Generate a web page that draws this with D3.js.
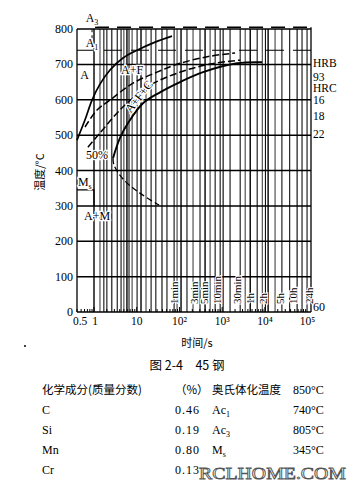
<!DOCTYPE html>
<html><head><meta charset="utf-8">
<script src="https://cdn.jsdelivr.net/npm/d3@7"></script>
<style>body{margin:0;background:#fff}svg{display:block}</style>
</head><body>
<svg id="c" width="358" height="500"></svg>
<script>
// ---------- data ----------
const tempTicks = [0,100,200,300,400,500,600,700,800];
const timeTicks = [0.5,1,10,100,1000,10000,100000];
const timeTickLabels = ["0.5","1","10","10²","10³","10⁴","10⁵"];
const coolingTimes = [1,1.38,1.7,2.0,2.6,3.5,4.3,5.0,5.9,6.6,7.8,10.2,12.6,16.5,21.7,28,39,51,75,88,109,150,208,303,398,522,685,898,1056,1530,2640,3460,4540,6600,8700,10300,11900,17300,25000,38000,56900,74000,97000];
const coolingLabels = ["1min","3min","5min","10min","30min","1h","2h","5h","10h","24h"];
const coolingLabelTimes = [60,180,300,600,1800,3600,7200,18000,36000,86400];
const hardnessLabels = ["HRB","93","HRC","16","18","22"];
const hardnessTemps = [703,664,633,599,554,503];
const bottomHardness = "60";
const ferriteStart = [[0.40,486],[0.61,542],[0.90,599],[1.38,644],[2.37,684],[4.77,718],[10.2,740],[26.9,763],[67,780]];
const pearliteStart = [[0.615,523],[1.18,571],[2.37,599],[8.2,647],[29.9,678],[103,703],[521,723],[2005,732]];
const half = [[0.72,466],[1.38,506],[3.1,556],[5.9,590],[20.5,641],[103,678],[521,701],[2625,712]];
const finish = [[2.79,435],[4.06,492],[6.26,534],[14,590],[35,621],[103,650],[357,678],[2234,703],[8600,706]];
const lowerStart = [[2.79,435],[2.94,415],[5.04,373],[11.9,336],[33.4,302]];
const Ac1 = 740, Ac3 = 805, Ms = 345, MsEndTime = 1.0;
const tableRows = [
  ["化学成分(质量分数)","（%）","奥氏体化温度","850°C"],
  ["C","0.46","Ac|1","740°C"],
  ["Si","0.19","Ac|3","805°C"],
  ["Mn","0.80","M|s","345°C"],
  ["Cr","0.13","",""]
];

// ---------- drawing ----------
const svg = d3.select("#c");
svg.append("rect").attr("width",358).attr("height",500).attr("fill","#fff");
const x = d3.scaleLog().domain([0.4,1.2e5]).range([77,311]);
const y = d3.scaleLinear().domain([0,800]).range([312,29]);
const serif = "Liberation Serif, DejaVu Serif, serif";
const cjk = "Noto Sans CJK SC, sans-serif";
const g = svg.append("g");

// cooling curves (vertical)
g.selectAll("line.cool").data(coolingTimes).join("line")
  .attr("x1",d=>x(d)).attr("x2",d=>x(d))
  .attr("y1",y(800)).attr("y2",y(0))
  .attr("stroke",(d,i)=> i%3===1 ? "#444" : "#111")
  .attr("stroke-width",(d,i)=> i%4===0 ? 1.5 : 1.1);

// horizontal grid
g.selectAll("line.grid").data(tempTicks).join("line")
  .attr("x1",x.range()[0]).attr("x2",x.range()[1])
  .attr("y1",d=>y(d)).attr("y2",d=>y(d))
  .attr("stroke","#000").attr("stroke-width",1.5);

// frame
g.append("line").attr("x1",77).attr("x2",77).attr("y1",y(800)).attr("y2",y(0)).attr("stroke","#000").attr("stroke-width",1.3);
g.append("line").attr("x1",x.range()[1]).attr("x2",x.range()[1]).attr("y1",y(805)).attr("y2",y(0)).attr("stroke","#000").attr("stroke-width",1.3);

// Ac3 and Ac1 dashed lines
g.append("line").attr("x1",x(0.9)+3).attr("x2",x.range()[1]).attr("y1",y(Ac3)).attr("y2",y(Ac3))
  .attr("stroke","#000").attr("stroke-width",1.5).attr("stroke-dasharray","14,8");
g.append("line").attr("x1",x.range()[0]).attr("x2",x.range()[1]).attr("y1",y(Ac1)).attr("y2",y(Ac1))
  .attr("stroke","#000").attr("stroke-width",1.2).attr("stroke-dasharray","18,9");
g.append("line").attr("x1",x(0.9)).attr("x2",x(0.9)).attr("y1",y(Ac3)+2).attr("y2",y(Ac1)-12)
  .attr("stroke","#000").attr("stroke-width",1).attr("stroke-dasharray","3,3");

// bottom ticks
const minor = [];
for (let e=-1;e<5;e++) for (let m=1;m<10;m++){const v=m*Math.pow(10,e); if(v>=0.4&&v<=1.2e5) minor.push(v);}
g.selectAll("line.tk").data(minor).join("line")
  .attr("x1",d=>x(d)).attr("x2",d=>x(d)).attr("y1",y(0)).attr("y2",d=>y(0)-(Math.abs(Math.log10(d)%1)<1e-9?5:3))
  .attr("stroke","#000").attr("stroke-width",1);

// curves
const line = d3.line().x(d=>x(d[0])).y(d=>y(d[1])).curve(d3.curveCatmullRom);
g.append("path").attr("d",line(ferriteStart)).attr("fill","none").attr("stroke","#000").attr("stroke-width",1.7);
g.append("path").attr("d",line(pearliteStart)).attr("fill","none").attr("stroke","#000").attr("stroke-width",1.5).attr("stroke-dasharray","7,3");
g.append("path").attr("d",line(half)).attr("fill","none").attr("stroke","#000").attr("stroke-width",1.5).attr("stroke-dasharray","7,3");
g.append("path").attr("d",line(finish)).attr("fill","none").attr("stroke","#000").attr("stroke-width",1.9);
g.append("path").attr("d",line(lowerStart)).attr("fill","none").attr("stroke","#000").attr("stroke-width",1.3).attr("stroke-dasharray","6,3");

// Ms box
g.append("path").attr("d",`M${x.range()[0]},${y(Ms)}H${x(MsEndTime)}V${y(300)}`)
  .attr("fill","none").attr("stroke","#000").attr("stroke-width",1.2);

// y tick labels
g.selectAll("text.yt").data(tempTicks).join("text")
  .attr("x",73).attr("y",d=>y(d)+4).attr("text-anchor","end")
  .attr("font-family",serif).attr("font-size",12).text(d=>d);
// x tick labels
g.selectAll("text.xt").data(timeTicks).join("text")
  .attr("x",(d,i)=>x(d)+(i===0?-1:(i===1?1:0))).attr("y",325).attr("text-anchor","middle")
  .attr("font-family",serif).attr("font-size",11.5).text((d,i)=>timeTickLabels[i]);

// cooling labels
g.selectAll("text.cl").data(coolingLabels).join("text")
  .attr("transform",(d,i)=>`translate(${x(coolingLabelTimes[i])+8},304) rotate(-90)`)
  .attr("font-family",serif).attr("font-size",11).text(d=>d)
  .attr("paint-order","stroke").attr("stroke","#fff").attr("stroke-width",2);

// hardness labels
g.selectAll("text.hd").data(hardnessLabels).join("text")
  .attr("x",313).attr("y",(d,i)=>y(hardnessTemps[i])+4)
  .attr("font-family",serif).attr("font-size",11.5).text(d=>d);
g.append("text").attr("x",313).attr("y",311).attr("font-family",serif).attr("font-size",12).text(bottomHardness);

// region labels
function lab(t,T,txt,sub,rot){
  const tx = g.append("text").attr("font-family",serif).attr("font-size",12)
    .attr("text-anchor","middle")
    .attr("paint-order","stroke").attr("stroke","#fff").attr("stroke-width",2.5)
    .attr("transform",`translate(${x(t)},${y(T)}) rotate(${rot||0})`);
  tx.append("tspan").text(txt);
  if(sub) tx.append("tspan").attr("font-size",8).attr("dy",3).text(sub);
}
lab(0.9,819,"A","3");
lab(0.9,749,"A","1");
lab(0.6,658,"A");
lab(7.8,672,"A+F");
lab(13.3,602,"A+F+C",null,-52);
lab(1.18,432,"50%");
lab(0.61,356,"M","s");
lab(1.18,260,"A+M");

// axis titles
svg.append("text").attr("transform","translate(44,172) rotate(-90)").attr("text-anchor","middle")
  .attr("font-family",cjk).attr("font-size",11).text("温度/°C");
svg.append("text").attr("x",197).attr("y",347).attr("text-anchor","middle")
  .attr("font-family",cjk).attr("font-size",11).text("时间/s");
svg.append("circle").attr("cx",25).attr("cy",346).attr("r",1).attr("fill","#000");
svg.append("text").attr("x",187).attr("y",370).attr("text-anchor","middle")
  .attr("font-family",cjk).attr("font-size",12.5).text("图 2-4　45 钢");

// table
const colX = [42,175,212,293];
tableRows.forEach((row,r)=>{
  const yy = 394 + r*20;
  row.forEach((cell,c)=>{
    if(!cell) return;
    const isCjk = /[\u4e00-\u9fff（]/.test(cell);
    const t = svg.append("text").attr("x",colX[c]).attr("y",yy)
      .attr("font-family",isCjk?cjk:serif).attr("font-size",isCjk?11.5:12);
    if (c===1 && !isCjk) t.attr("letter-spacing",1);
    if (cell.includes("|")){
      const [a,b]=cell.split("|");
      t.append("tspan").text(a);
      t.append("tspan").attr("font-size",8).attr("dy",3).text(b);
    } else t.text(cell);
  });
});
// watermark
svg.append("text").attr("x",199).attr("y",479).attr("textLength",147).attr("lengthAdjust","spacingAndGlyphs")
  .attr("font-family",serif).attr("font-size",16).attr("fill","none").attr("stroke","#555").attr("stroke-width",0.8)
  .text("RCLHOME.COM");
</script>
</body></html>
